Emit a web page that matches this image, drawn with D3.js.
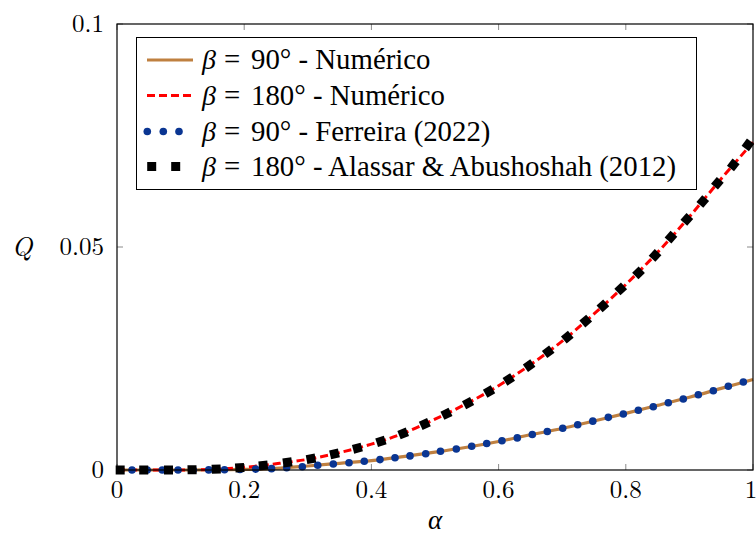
<!DOCTYPE html>
<html><head><meta charset="utf-8">
<script src="https://cdn.jsdelivr.net/npm/d3@7"></script>
</head><body style="margin:0"><svg id="c" width="756" height="536"></svg>
<script>
// numerical curves
const alphaNum = [0,0.05,0.1,0.15,0.2,0.25,0.3,0.35,0.4,0.45,0.5,0.55,0.6,0.65,0.7,0.75,0.8,0.85,0.9,0.95,1.0];
const qNum90  = [0,0,0,0.00002,0.00012,0.00036,0.0009,0.0015,0.0021,0.0030,0.0040,0.0051,0.0064,0.0079,0.0093,0.0110,0.0127,0.0145,0.0163,0.0183,0.0203];
const qNum180 = [0,0,0,0.00015,0.0006,0.0014,0.0024,0.0039,0.0058,0.0082,0.0114,0.0149,0.0189,0.0236,0.0289,0.0350,0.0416,0.0488,0.0568,0.0653,0.0735];
// Ferreira (2022), beta = 90
const alphaFer = [0.0236,0.0475,0.0712,0.096,0.120,0.1442,0.169,0.1934,0.218,0.243,0.2668,0.2914,0.3156,0.3401,0.3648,0.3888,0.4135,0.4371,0.4607,0.4854,0.5086,0.5335,0.5577,0.5813,0.6053,0.6294,0.653,0.6766,0.7008,0.7244,0.7481,0.7725,0.7961,0.8197,0.8432,0.8668,0.8904,0.914,0.9376,0.9612,0.9848];
const qFer = [0,0,0,0,0,0.00002,0.00005,0.0001,0.0002,0.0003,0.0005,0.00074,0.00105,0.00135,0.00164,0.00197,0.00233,0.00274,0.00316,0.00365,0.00419,0.00471,0.00531,0.00594,0.00657,0.0072,0.00796,0.00862,0.00935,0.01014,0.01095,0.0118,0.01256,0.01339,0.01419,0.01509,0.01592,0.01688,0.01778,0.01877,0.01973];
// Alassar & Abushoshah (2012), beta = 180
const alphaAla = [0.005,0.042,0.081,0.118,0.156,0.193,0.230,0.268,0.305,0.342,0.378,0.415,0.450,0.484,0.518,0.552,0.585,0.616,0.648,0.678,0.708,0.737,0.764,0.792,0.820,0.846,0.871,0.896,0.921,0.944,0.969,0.992];
const qAla = [0,0,0,0.00005,0.0002,0.0005,0.0010,0.0017,0.0025,0.0036,0.0049,0.0064,0.0082,0.0103,0.0126,0.0150,0.0176,0.0203,0.0234,0.0265,0.0298,0.0334,0.0368,0.0406,0.0442,0.0481,0.0522,0.0562,0.0602,0.0643,0.0684,0.0729];
const xTicks = [0,0.2,0.4,0.6,0.8,1];
const yTicks = [0,0.05,0.1];
const legendBeta = ["90°","180°","90°","180°"];
const legendSrc = ["Numérico","Numérico","Ferreira (2022)","Alassar & Abushoshah (2012)"];

const COL_BROWN = "#bf8040", COL_RED = "#ff0000", COL_BLUE = "#0a3592", COL_BLACK = "#000";
const FONTNAMES = ["Latin Modern Roman","Liberation Serif"];
const LM = `"${FONTNAMES[0]}"`, TIMES = `"${FONTNAMES[1]}"`;

const svg = d3.select("#c");
svg.append("rect").attr("width",756).attr("height",536).attr("fill","#fff");
const L = 117, R = 753, T = 24, B = 470;
const x = d3.scaleLinear().domain([0,1]).range([L,R]);
const y = d3.scaleLinear().domain([0,0.1]).range([B,T]);

// ticks (inward, thin gray)
const tg = svg.append("g").attr("stroke","#8a8a8a").attr("stroke-width",1);
xTicks.forEach(t=>{
  tg.append("line").attr("x1",x(t)).attr("x2",x(t)).attr("y1",B).attr("y2",B-6);
  tg.append("line").attr("x1",x(t)).attr("x2",x(t)).attr("y1",T).attr("y2",T+6);
});
yTicks.forEach(t=>{
  tg.append("line").attr("x1",L).attr("x2",L+6).attr("y1",y(t)).attr("y2",y(t));
  tg.append("line").attr("x1",R).attr("x2",R-6).attr("y1",y(t)).attr("y2",y(t));
});

function txt(parent, str, px, py, fam, size, opts={}){
  const t = parent.append("text").attr("x",px).attr("y",py)
    .style("font-family",fam).style("font-size",size+"px").text(str);
  if(opts.anchor) t.attr("text-anchor",opts.anchor);
  if(opts.italic) t.style("font-style","italic");
  return t;
}

// tick labels
xTicks.forEach(d=>txt(svg, String(d), d===1?x(d)-2:x(d), 498, LM, 25, {anchor:"middle"}));
yTicks.forEach(d=>txt(svg, String(d), 104, y(d)+8, LM, 25, {anchor:"end"}));

// axis labels
txt(svg, "α", (L+R)/2, 529, LM, 27, {anchor:"middle", italic:true});
txt(svg, "Q", 22, 256, LM, 27, {anchor:"middle", italic:true});

// curves
const line = d3.line().x(d=>x(d[0])).y(d=>y(d[1])).curve(d3.curveMonotoneX);
svg.append("path").datum(alphaNum.map((a,i)=>[a,qNum90[i]]))
  .attr("d",line).attr("fill","none").attr("stroke",COL_BROWN).attr("stroke-width",3.2);
svg.append("path").datum(alphaNum.map((a,i)=>[a,qNum180[i]]))
  .attr("d",line).attr("fill","none").attr("stroke",COL_RED).attr("stroke-width",3)
  .attr("stroke-dasharray","8 4");

// Ferreira dots
svg.append("g").selectAll("circle").data(alphaFer.map((a,i)=>[a,qFer[i]])).join("circle")
  .attr("cx",d=>x(d[0])).attr("cy",d=>y(d[1])).attr("r",3.8).attr("fill",COL_BLUE);

// Alassar squares, rotated along the curve
const alaPts = alphaAla.map((a,i)=>[a,qAla[i]]);
const S = 9;
svg.append("g").selectAll("rect").data(alaPts).join("rect")
  .attr("x",-S/2).attr("y",-S/2).attr("width",S).attr("height",S).attr("fill",COL_BLACK)
  .attr("transform",(d,i)=>{
    const p0 = alaPts[Math.max(0,i-1)], p1 = alaPts[Math.min(alaPts.length-1,i+1)];
    const ang = Math.atan2(y(p1[1])-y(p0[1]), x(p1[0])-x(p0[0]))*180/Math.PI;
    return `translate(${x(d[0])},${y(d[1])}) rotate(${ang})`;
  });

// frame
svg.append("rect").attr("x",L).attr("y",T).attr("width",R-L).attr("height",B-T)
  .attr("fill","none").attr("stroke","#000").attr("stroke-width",1.2);

// legend
const lg = svg.append("g");
lg.append("rect").attr("x",136.5).attr("y",37.5).attr("width",560).attr("height",152)
  .attr("fill","#fff").attr("stroke","#000").attr("stroke-width",1);
const rowY = [60,95.5,131.5,166.5];
lg.append("line").attr("x1",147).attr("x2",193).attr("y1",rowY[0]).attr("y2",rowY[0])
  .attr("stroke",COL_BROWN).attr("stroke-width",3.2);
lg.append("line").attr("x1",147).attr("x2",193).attr("y1",rowY[1]).attr("y2",rowY[1])
  .attr("stroke",COL_RED).attr("stroke-width",3).attr("stroke-dasharray","8 4");
[147.3,163.3,179].forEach(cx=>lg.append("circle").attr("cx",cx).attr("cy",rowY[2]).attr("r",3.8).attr("fill",COL_BLUE));
[151.7,175.7].forEach(cx=>lg.append("rect").attr("x",cx-S/2).attr("y",rowY[3]-S/2).attr("width",S).attr("height",S).attr("fill",COL_BLACK));
legendSrc.forEach((s,i)=>{
  const by = rowY[i]+9;
  txt(lg, "β", 202, by, LM, 28, {italic:true});
  txt(lg, "=", 224, by, TIMES, 28.8);
  txt(lg, legendBeta[i] + " - " + s, 251, by, TIMES, 28.8);
});
</script></body></html>
